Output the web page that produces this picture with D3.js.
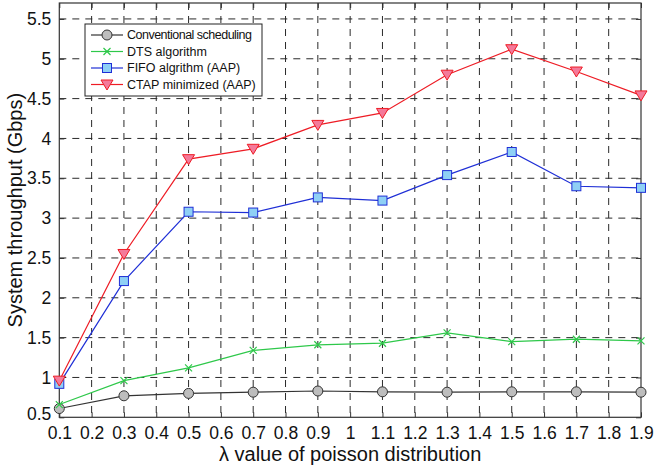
<!DOCTYPE html>
<html>
<head>
<meta charset="utf-8">
<script src="https://cdn.jsdelivr.net/npm/d3@7"></script>
<style>
  body { margin: 0; background: #fff; }
  text { font-family: "Liberation Sans", Arial, sans-serif; fill: #111; }
</style>
</head>
<body>
<div id="chart"></div>
<script>
// x positions (lambda) and the four series
const lambdas = [0.1, 0.3, 0.5, 0.7, 0.9, 1.1, 1.3, 1.5, 1.7, 1.9];
const conventional = [0.61, 0.77, 0.80, 0.815, 0.83, 0.82, 0.815, 0.82, 0.82, 0.815];
const dts = [0.66, 0.96, 1.12, 1.34, 1.41, 1.43, 1.56, 1.45, 1.48, 1.46];
const fifo = [0.92, 2.21, 3.08, 3.07, 3.26, 3.22, 3.54, 3.83, 3.40, 3.38];
const ctap = [0.96, 2.55, 3.74, 3.87, 4.17, 4.32, 4.80, 5.12, 4.84, 4.54];
const seriesNames = ["Conventional scheduling", "DTS algorithm", "FIFO algrithm (AAP)", "CTAP minimized (AAP)"];
const xTicks = d3.range(1, 20).map(i => i / 10);
const yTicks = [0.5, 1, 1.5, 2, 2.5, 3, 3.5, 4, 4.5, 5, 5.5];

const width = 655, height = 468;
const margin = { top: 3, right: 14, bottom: 50.7, left: 59.3 };
const w = width - margin.left - margin.right,
      h = height - margin.top - margin.bottom;

const svg = d3.select('#chart').append('svg')
  .attr('width', width)
  .attr('height', height);

const g = svg.append('g')
  .attr('transform', `translate(${margin.left},${margin.top})`);

const x = d3.scaleLinear().domain([0.1, 1.9]).range([0, w]);
const y = d3.scaleLinear().domain([0.5, 5.7]).range([h, 0]);

// dashed grid
g.append('g').selectAll('line')
  .data(xTicks.slice(1, -1))
  .join('line')
  .attr('x1', d => x(d)).attr('x2', d => x(d))
  .attr('y1', 0).attr('y2', h)
  .attr('stroke', '#2a2a2a').attr('stroke-width', 1)
  .attr('stroke-dasharray', '7,6');

g.append('g').selectAll('line')
  .data(yTicks.slice(1))
  .join('line')
  .attr('x1', 0).attr('x2', w)
  .attr('y1', d => y(d)).attr('y2', d => y(d))
  .attr('stroke', '#2a2a2a').attr('stroke-width', 1)
  .attr('stroke-dasharray', '7,6');

// axes with inward ticks
const xAxis = g.append('g')
  .attr('transform', `translate(0,${h})`)
  .call(d3.axisBottom(x).tickValues(xTicks).tickSizeInner(-5).tickSizeOuter(0).tickPadding(9)
    .tickFormat(d => d3.format('~g')(d)));
const xTop = g.append('g')
  .call(d3.axisTop(x).tickValues(xTicks).tickSizeInner(-5).tickSizeOuter(0).tickFormat(''));
const yAxis = g.append('g')
  .call(d3.axisLeft(y).tickValues(yTicks).tickSizeInner(-5).tickSizeOuter(0).tickPadding(8)
    .tickFormat(d => d3.format('~g')(d)));
const yRight = g.append('g')
  .attr('transform', `translate(${w},0)`)
  .call(d3.axisRight(y).tickValues(yTicks).tickSizeInner(-5).tickSizeOuter(0).tickFormat(''));

[xAxis, xTop, yAxis, yRight].forEach(a => {
  a.select('.domain').remove();
  a.selectAll('line').attr('stroke', '#333');
});
xAxis.selectAll('text').attr('font-size', 17.5).style('font-family', '"Liberation Sans", Arial, sans-serif').attr('fill', '#111');
yAxis.selectAll('text').attr('font-size', 17.5).style('font-family', '"Liberation Sans", Arial, sans-serif').attr('fill', '#111');
yAxis.selectAll('.tick').filter(d => d === 0.5).select('text').attr('dy', '0.15em');

g.append('rect')
  .attr('width', w).attr('height', h)
  .attr('fill', 'none').attr('stroke', '#333').attr('stroke-width', 1.2);

// series
const series = [
  { name: seriesNames[0], values: conventional, color: '#333333', marker: 'circle', fill: '#bdbdbd' },
  { name: seriesNames[1], values: dts, color: '#2ec84a', marker: 'x', fill: 'none' },
  { name: seriesNames[2], values: fifo, color: '#1f2fd6', marker: 'square', fill: '#8fd0f5' },
  { name: seriesNames[3], values: ctap, color: '#ee1c25', marker: 'triangle', fill: '#f47a9a' }
];

const line = d3.line().x(d => x(d[0])).y(d => y(d[1]));

function drawMarker(sel, s) {
  if (s.marker === 'circle') {
    sel.append('circle').attr('r', 5)
      .attr('fill', s.fill).attr('stroke', s.color).attr('stroke-width', 1);
  } else if (s.marker === 'x') {
    sel.append('path').attr('d', 'M-3.5,-3.5L3.5,3.5M-3.5,3.5L3.5,-3.5')
      .attr('stroke', s.color).attr('stroke-width', 1.2).attr('fill', 'none');
  } else if (s.marker === 'square') {
    sel.append('rect').attr('x', -4.5).attr('y', -4.5).attr('width', 9).attr('height', 9)
      .attr('fill', s.fill).attr('stroke', s.color).attr('stroke-width', 1);
  } else {
    sel.append('path').attr('d', 'M-6,-4.5L6,-4.5L0,5.5Z')
      .attr('fill', s.fill).attr('stroke', s.color).attr('stroke-width', 1);
  }
}

series.forEach(s => {
  const pts = lambdas.map((l, i) => [l, s.values[i]]);
  g.append('path').datum(pts)
    .attr('d', line)
    .attr('fill', 'none').attr('stroke', s.color).attr('stroke-width', 1.2);
  g.append('g').selectAll('g')
    .data(pts)
    .join('g')
    .attr('transform', d => `translate(${x(d[0])},${y(d[1])})`)
    .each(function() { drawMarker(d3.select(this), s); });
});

// legend
const legend = svg.append('g').attr('transform', 'translate(85,24)');
legend.append('rect')
  .attr('width', 177).attr('height', 72)
  .attr('fill', '#fff').attr('stroke', '#222').attr('stroke-width', 1);
series.forEach((s, i) => {
  const row = legend.append('g').attr('transform', `translate(0,${11 + i * 16.5})`);
  row.append('line').attr('x1', 6).attr('x2', 38).attr('y1', 0).attr('y2', 0)
    .attr('stroke', s.color).attr('stroke-width', 1.2);
  drawMarker(row.append('g').attr('transform', 'translate(22,0)'), s);
  row.append('text').attr('x', 42).attr('y', 0).attr('dy', '0.35em')
    .attr('font-size', 12.5).attr('textLength', i === 0 ? 125 : null)
    .text(s.name);
});

// axis titles
svg.append('text')
  .attr('x', margin.left + w / 2).attr('y', 461)
  .attr('text-anchor', 'middle').attr('font-size', 20)
  .text('λ value of poisson distribution');
svg.append('text')
  .attr('transform', `translate(22,${margin.top + h / 2}) rotate(-90)`)
  .attr('text-anchor', 'middle').attr('font-size', 20)
  .text('System throughput (Gbps)');
</script>
</body>
</html>
